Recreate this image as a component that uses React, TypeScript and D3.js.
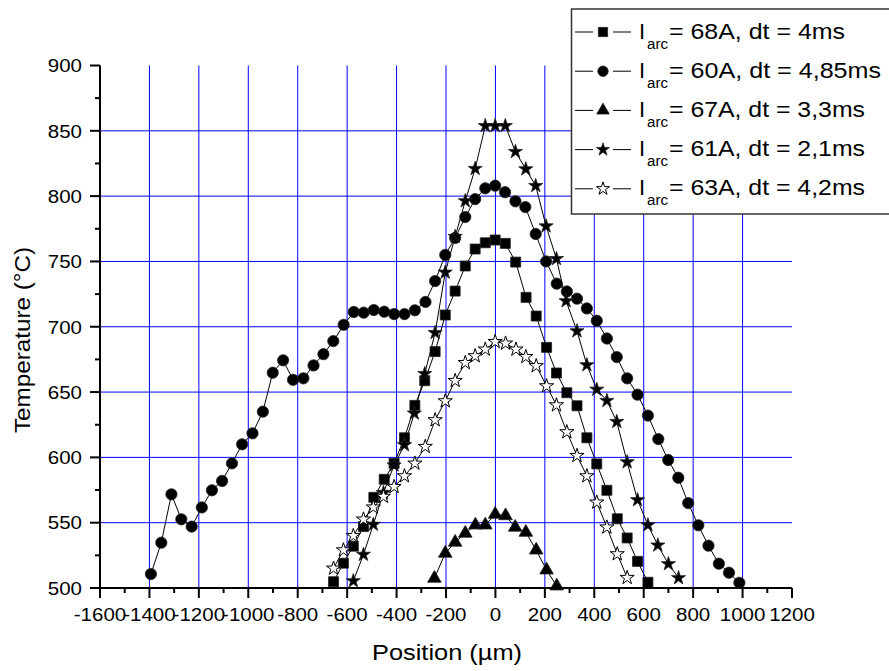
import React from "react";
import * as d3 from "d3";

// ---------- data ----------
const legendLabels = [
  "= 68A, dt = 4ms",
  "= 60A, dt = 4,85ms",
  "= 67A, dt = 3,3ms",
  "= 61A, dt = 2,1ms",
  "= 63A, dt = 4,2ms",
];
const xTickValues = [-1600, -1400, -1200, -1000, -800, -600, -400, -200, 0, 200, 400, 600, 800, 1000, 1200];
const yTickValues = [500, 550, 600, 650, 700, 750, 800, 850, 900];

const pos68 = [-655, -615, -575, -534, -492, -450, -410, -368, -326, -286, -244, -203, -163, -122, -82, -41, -1, 40, 82, 124, 165, 207, 247, 289, 330, 370, 410, 451, 493, 533, 575, 617];
const temp68 = [504.8, 519, 532, 547, 569.4, 583.2, 595.4, 615, 639.8, 658.7, 681, 709, 727.3, 746.5, 759.5, 764.3, 766.4, 763.8, 749.5, 722.5, 708.2, 684.2, 664.6, 649.5, 639.5, 615, 595, 574.8, 553, 538.3, 520.4, 504.4];

const pos60 = [-1394, -1352, -1311, -1271, -1229, -1188, -1147, -1106, -1066, -1025, -983, -941, -901, -859, -819, -777, -736, -696, -656, -614, -573, -533, -492, -450, -410, -368, -326, -283, -244, -203, -163, -122, -82, -41, -1, 39, 81, 121, 163, 205, 248, 289, 330, 370, 410, 451, 491, 533, 575, 617, 659, 699, 740, 780, 821, 862, 904, 945, 987];
const temp60 = [510.7, 534.7, 571.7, 552.6, 547, 561.7, 574.8, 582, 595.4, 610, 618.4, 635, 664.8, 674.3, 659.4, 660.5, 670.4, 679, 689, 701.5, 711.3, 710.8, 712.8, 711.5, 709.7, 709.7, 712.6, 719, 735, 755, 768, 784, 797.7, 806, 808, 803, 796, 791.6, 771, 750, 733, 727, 721.5, 714, 704.6, 691, 676.8, 660.5, 648, 632, 614, 598, 584.4, 565, 548, 532.4, 518.6, 511.7, 504];

const pos67 = [-247, -203, -163, -122, -81, -41, -1, 41, 80, 123, 165, 207, 248];
const temp67 = [507.4, 526.6, 535, 541.9, 548.2, 548.2, 556.4, 555.3, 546.5, 542.6, 529, 513.8, 501.5];

const pos61 = [-575, -534, -494, -453, -410, -368, -328, -286, -244, -203, -163, -122, -82, -41, -1, 40, 81, 123, 163, 205, 247, 286, 330, 370, 410, 451, 491, 533, 575, 617, 657, 700, 741];
const temp61 = [505.4, 525.6, 548.6, 573, 594, 609.5, 633.7, 664, 695.4, 741.6, 769, 796.3, 821, 853.8, 853.8, 853.8, 834, 820.7, 807.9, 777, 752, 719.7, 696.7, 670.7, 652, 643.4, 627.3, 596.4, 567.4, 548.2, 532.7, 518.4, 507.7];

const pos63 = [-655, -615, -575, -534, -494, -453, -410, -368, -326, -284, -244, -203, -163, -122, -82, -41, -1, 41, 83, 123, 165, 207, 247, 289, 330, 370, 410, 451, 493, 533];
const temp63 = [515, 529, 540, 552.6, 561.8, 570, 577.5, 585.7, 595.4, 608.2, 628.6, 643.1, 658.7, 672.4, 677.6, 682.7, 688.5, 687.3, 682.7, 677, 670, 654.6, 640, 619.4, 601.3, 585.7, 565.6, 546.5, 526, 507.9];

// ---------- layout ----------
const W = 889;
const H = 671;
const PL = 100, PR = 792, PT = 65.5, PB = 588;
const FONT = "Arial, 'Liberation Sans', Helvetica, sans-serif";
const legendTextLen = [176, 212, 196, 196, 196];

type Kind = "square" | "circle" | "triangle" | "star" | "openstar";
const series: { xs: number[]; ys: number[]; kind: Kind }[] = [
  { xs: pos68, ys: temp68, kind: "square" },
  { xs: pos60, ys: temp60, kind: "circle" },
  { xs: pos67, ys: temp67, kind: "triangle" },
  { xs: pos61, ys: temp61, kind: "star" },
  { xs: pos63, ys: temp63, kind: "openstar" },
];

function symPath(kind: Kind, scale = 1): string {
  const g = d3.symbol();
  if (kind === "square") return g.type(d3.symbolSquare).size(100 * scale)() as string;
  if (kind === "circle") return g.type(d3.symbolCircle).size(100 * scale)() as string;
  if (kind === "triangle") return g.type(d3.symbolTriangle).size(80 * scale)() as string;
  return g.type(d3.symbolStar).size(62 * scale)() as string;
}

function Marker({ kind, x, y, scale = 1 }: { kind: Kind; x: number; y: number; scale?: number }) {
  const open = kind === "openstar";
  return (
    <path
      d={symPath(kind, scale)}
      transform={`translate(${x},${y})`}
      fill={open ? "#fff" : "#000"}
      stroke={open ? "#000" : "#222"}
      strokeWidth={open ? 1 : 0.8}
    />
  );
}

export default function App() {
  const x = d3.scaleLinear().domain([-1600, 1200]).range([PL, PR]);
  const y = d3.scaleLinear().domain([500, 900]).range([PB, PT]);
  const line = d3.line<[number, number]>().x((d) => x(d[0])).y((d) => y(d[1]));

  const xMinor = d3.range(-1500, 1200, 200);
  const yMinor = d3.range(525, 900, 50);
  const vGrid = xTickValues.filter((v) => v > -1600 && v < 1200);
  const hGrid = yTickValues.filter((v) => v > 500 && v < 900);

  return (
    <svg width={W} height={H} style={{ position: "absolute", left: 0, top: 0, background: "#fff" }} fontFamily={FONT}>
      <rect x={0} y={0} width={W} height={H} fill="#fff" />
      {/* grid */}
      {vGrid.map((v) => (
        <line key={"vg" + v} x1={x(v)} x2={x(v)} y1={PT} y2={PB} stroke="#0000ff" strokeWidth={1} />
      ))}
      {hGrid.map((v) => (
        <line key={"hg" + v} x1={PL} x2={PR} y1={y(v)} y2={y(v)} stroke="#0000ff" strokeWidth={1} />
      ))}

      {/* series lines */}
      {series.map((s, i) => (
        <path
          key={"l" + i}
          d={line(s.xs.map((v, j) => [v, s.ys[j]] as [number, number])) as string}
          fill="none"
          stroke="#000"
          strokeWidth={1}
        />
      ))}
      {/* markers */}
      {series.map((s, i) => (
        <g key={"m" + i}>
          {s.xs.map((v, j) => (
            <Marker key={j} kind={s.kind} x={x(v)} y={y(s.ys[j])} />
          ))}
        </g>
      ))}

      {/* axes */}
      <line x1={PL} x2={PL} y1={PT} y2={PB + 1} stroke="#000" strokeWidth={2} />
      <line x1={PL - 1} x2={PR} y1={PB} y2={PB} stroke="#000" strokeWidth={2} />
      {xTickValues.map((v) => (
        <line key={"xt" + v} x1={x(v)} x2={x(v)} y1={PB} y2={PB + 10} stroke="#000" strokeWidth={2} />
      ))}
      {xMinor.map((v) => (
        <line key={"xm" + v} x1={x(v)} x2={x(v)} y1={PB} y2={PB + 5} stroke="#000" strokeWidth={2} />
      ))}
      {yTickValues.map((v) => (
        <line key={"yt" + v} x1={PL - 10} x2={PL} y1={y(v)} y2={y(v)} stroke="#000" strokeWidth={2} />
      ))}
      {yMinor.map((v) => (
        <line key={"ym" + v} x1={PL - 5} x2={PL} y1={y(v)} y2={y(v)} stroke="#000" strokeWidth={2} />
      ))}

      {/* tick labels */}
      {xTickValues.map((v) => (
        <g key={"xl" + v} transform={`translate(${x(v)},621) scale(1.08,1)`}>
          <text x={0} y={0} textAnchor="middle" fontSize={19} fill="#000">
            {String(v)}
          </text>
        </g>
      ))}
      {yTickValues.map((v) => (
        <g key={"yl" + v} transform={`translate(82,${y(v) + 6.8}) scale(1.08,1)`}>
          <text x={0} y={0} textAnchor="end" fontSize={19} fill="#000">
            {String(v)}
          </text>
        </g>
      ))}

      {/* axis titles */}
      <text x={447} y={660} textAnchor="middle" fontSize={22} textLength={150} lengthAdjust="spacingAndGlyphs" fill="#000">
        Position (µm)
      </text>
      <text
        transform="translate(30,340) rotate(-90)"
        x={0}
        y={0}
        textAnchor="middle"
        fontSize={22}
        textLength={186}
        lengthAdjust="spacingAndGlyphs"
        fill="#000"
      >
        Temperature (°C)
      </text>

      {/* legend */}
      <rect x={571.5} y={9} width={340} height={205} fill="#fff" stroke="#333" strokeWidth={1.5} />
      {legendLabels.map((lab, i) => {
        const cy = 32 + i * 39.2;
        return (
          <g key={"lg" + i}>
            <line x1={575} x2={593} y1={cy} y2={cy} stroke="#000" strokeWidth={1} />
            <line x1={613} x2={631} y1={cy} y2={cy} stroke="#000" strokeWidth={1} />
            <Marker kind={series[i].kind} x={603} y={cy} scale={0.85} />
            <text x={639} y={cy + 6.5} fontSize={22} fill="#000">I</text>
            <text x={647} y={cy + 16.5} fontSize={14} textLength={21} lengthAdjust="spacingAndGlyphs" fill="#000">
              arc
            </text>
            <text x={669} y={cy + 6.5} fontSize={22} textLength={legendTextLen[i]} lengthAdjust="spacingAndGlyphs" fill="#000">
              {lab}
            </text>
          </g>
        );
      })}
    </svg>
  );
}
